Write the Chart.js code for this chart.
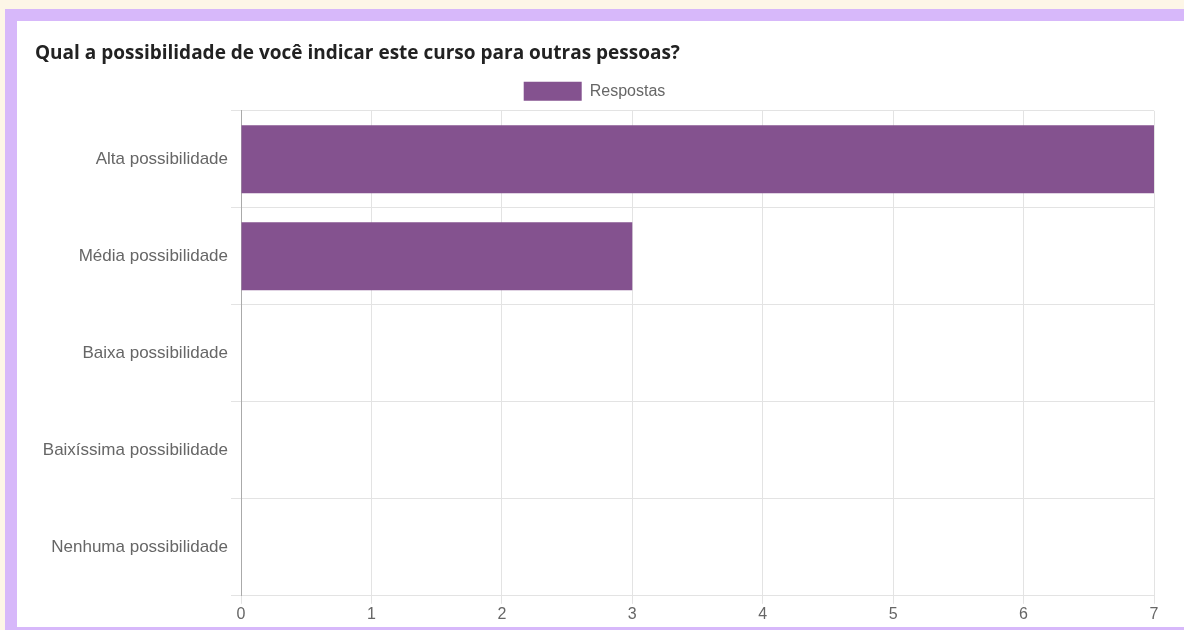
<!DOCTYPE html>
<html>
<head>
<meta charset="utf-8">
<script src="https://cdn.jsdelivr.net/npm/chart.js@4"></script>
<style>
  html, body { margin: 0; padding: 0; }
  body { width: 1184px; height: 630px; background: #fdf6e7; position: relative; overflow: hidden; }
  .frame { position: absolute; left: 5px; top: 9px; width: 1179px; height: 621px; background: #d7b8fa; }
  .box { position: absolute; left: 17px; top: 21px; width: 1167px; height: 606px; background: #fff; }
</style>
</head>
<body>
<div class="frame"></div>
<div class="box"><canvas id="chart" width="1167" height="606"></canvas></div>
<script>
// Chart data
const categories = [
    'Alta possibilidade',
    'Média possibilidade',
    'Baixa possibilidade',
    'Baixíssima possibilidade',
    'Nenhuma possibilidade'
];
const respostas = [7, 3, 0, 0, 0];
const xTicks = [0, 1, 2, 3, 4, 5, 6, 7];

const BAR_COLOR = '#84528f';
const LABEL_COLOR = '#666';
const GRID_COLOR = '#e3e3e3';

Chart.defaults.font.family = '"Liberation Sans", Arial, sans-serif';

new Chart(document.getElementById('chart').getContext('2d'), {
    type: 'bar',
    data: {
        labels: categories,
        datasets: [{
            label: 'Respostas',
            data: respostas,
            backgroundColor: BAR_COLOR,
            borderWidth: 0,
            categoryPercentage: 1,
            barPercentage: 0.7
        }]
    },
    options: {
        indexAxis: 'y',
        responsive: false,
        animation: false,
        layout: { padding: { left: 18, right: 30, top: 21, bottom: 2 } },
        plugins: {
            title: {
                display: true,
                align: 'start',
                text: 'Qual a possibilidade de você indicar este curso para outras pessoas?',
                color: '#222',
                font: { family: '"Open Sans", sans-serif', size: 19, weight: 'bold' },
                padding: { top: 0, bottom: 11 }
            },
            legend: {
                position: 'top',
                labels: {
                    boxWidth: 58,
                    boxHeight: 19,
                    color: LABEL_COLOR,
                    font: { size: 16 },
                    padding: 6
                }
            },
            tooltip: { enabled: false }
        },
        scales: {
            x: {
                min: 0,
                max: 7,
                afterBuildTicks: axis => { axis.ticks = xTicks.map(v => ({ value: v })); },
                grid: { color: GRID_COLOR, tickLength: 8 },
                border: { color: GRID_COLOR },
                ticks: { color: LABEL_COLOR, font: { size: 16 }, padding: 1 }
            },
            y: {
                afterFit: axis => { axis.width = 206; },
                grid: { color: GRID_COLOR, offset: true, tickLength: 10 },
                border: { color: '#aaa' },
                ticks: { color: LABEL_COLOR, font: { size: 17 }, padding: 3 }
            }
        }
    }
});
</script>
</body>
</html>
